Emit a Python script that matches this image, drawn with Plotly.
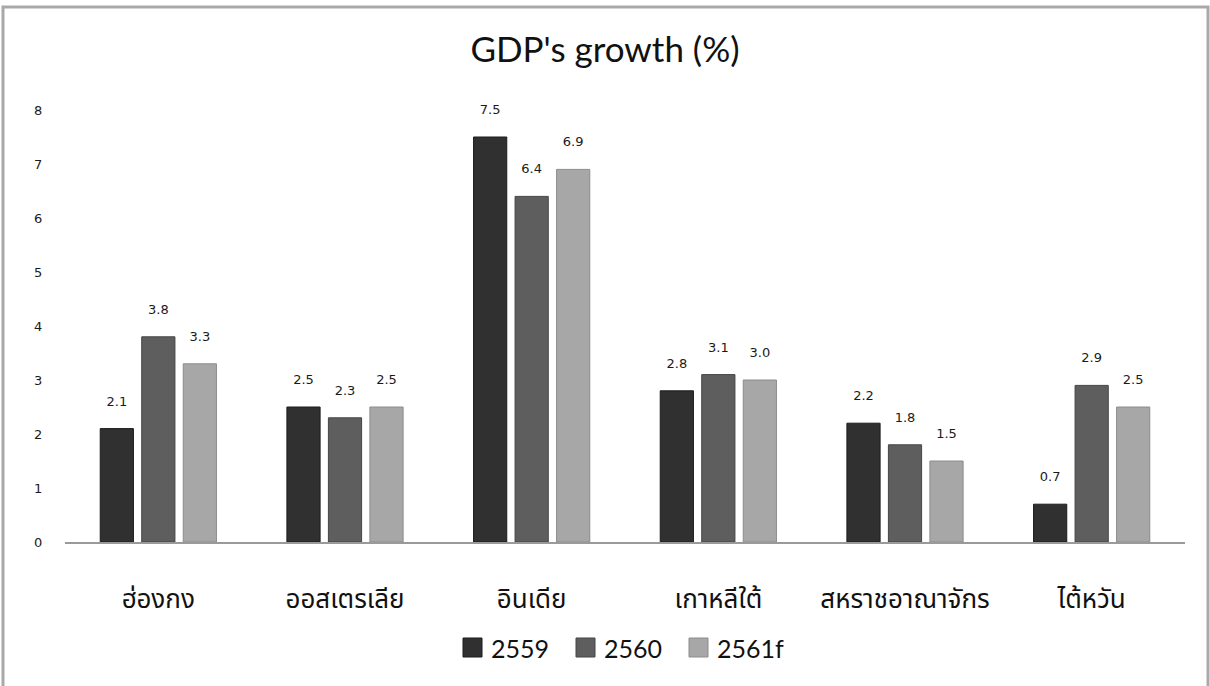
import plotly.graph_objects as go

# GDP growth by economy, Thai Buddhist-era years
countries = ["ฮ่องกง", "ออสเตรเลีย", "อินเดีย", "เกาหลีใต้", "สหราชอาณาจักร", "ไต้หวัน"]
series_names = ["2559", "2560", "2561f"]
growth_2559 = [2.1, 2.5, 7.5, 2.8, 2.2, 0.7]
growth_2560 = [3.8, 2.3, 6.4, 3.1, 1.8, 2.9]
growth_2561f = [3.3, 2.5, 6.9, 3.0, 1.5, 2.5]
y_ticks = [0, 1, 2, 3, 4, 5, 6, 7, 8]

series_values = [growth_2559, growth_2560, growth_2561f]
fill_colors = ["#303030", "#5e5e5e", "#a7a7a7"]
edge_colors = ["#1c1c1c", "#454545", "#8c8c8c"]

W, H = 1210, 686
ML, MR, MT, MB = 65, 25, 110, 144
PW, PH = W - ML - MR, H - MT - MB

label_font = dict(family="DejaVu Sans, Verdana, sans-serif", size=13, color="#1a1a1a")

fig = go.Figure()
for name, vals, fc, ec in zip(series_names, series_values, fill_colors, edge_colors):
    fig.add_trace(go.Bar(
        name=name,
        x=countries,
        y=vals,
        marker=dict(color=fc, line=dict(color=ec, width=1)),
        text=[f"{v:.1f}<br> " for v in vals],
        textposition="outside",
        textfont=label_font,
        cliponaxis=False,
        showlegend=False,
        hoverinfo="x+y+name",
    ))

# Legend drawn below the axis: square swatch followed by the series name
shapes = []
annotations = []
legend_x0 = [463, 576, 689]
for px, name, fc, ec in zip(legend_x0, series_names, fill_colors, edge_colors):
    x0 = (px - ML) / PW
    x1 = (px + 19 - ML) / PW
    y_top = (MT + PH - 638) / PH
    y_bot = (MT + PH - 657) / PH
    shapes.append(dict(type="rect", xref="paper", yref="paper",
                       x0=x0, x1=x1, y0=y_bot, y1=y_top,
                       fillcolor=fc, line=dict(color=ec, width=1)))
    annotations.append(dict(xref="paper", yref="paper",
                            x=(px + 26 - ML) / PW, y=(y_top + y_bot) / 2,
                            xanchor="left", yanchor="middle", showarrow=False,
                            text=name,
                            font=dict(family="Lato, sans-serif", size=25, color="#111111")))

# Outer frame around the chart
shapes.append(dict(type="rect", xref="paper", yref="paper",
                   x0=(3 - ML) / PW, x1=(1208 - ML) / PW,
                   y0=(MT + PH - 700) / PH, y1=(MT + PH - 7) / PH,
                   line=dict(color="#a9a9a9", width=3), fillcolor="rgba(0,0,0,0)",
                   layer="below"))

fig.update_layout(
    width=W, height=H,
    margin=dict(l=ML, r=MR, t=MT, b=MB, pad=0),
    paper_bgcolor="white",
    plot_bgcolor="white",
    barmode="group",
    bargap=0.333,
    bargroupgap=0.2,
    title=dict(text="GDP's growth (%)", x=0.5, xanchor="center",
               y=1 - 50 / H, yanchor="middle",
               font=dict(family="Lato, sans-serif", size=35, color="#111111")),
    xaxis=dict(
        showgrid=False, zeroline=False,
        showline=True, linecolor="#9a9a9a", linewidth=2,
        ticks="outside", ticklen=33, tickcolor="rgba(0,0,0,0)",
        tickfont=dict(family="Noto Sans Thai, Tahoma, DejaVu Sans, sans-serif", size=26, color="#111111"),
    ),
    yaxis=dict(
        range=[0, 8], tickvals=y_ticks,
        showgrid=False, zeroline=False, showline=False,
        ticks="outside", ticklen=19, tickcolor="rgba(0,0,0,0)",
        tickfont=label_font,
    ),
    shapes=shapes,
    annotations=annotations,
)

fig.write_html("out.html")
